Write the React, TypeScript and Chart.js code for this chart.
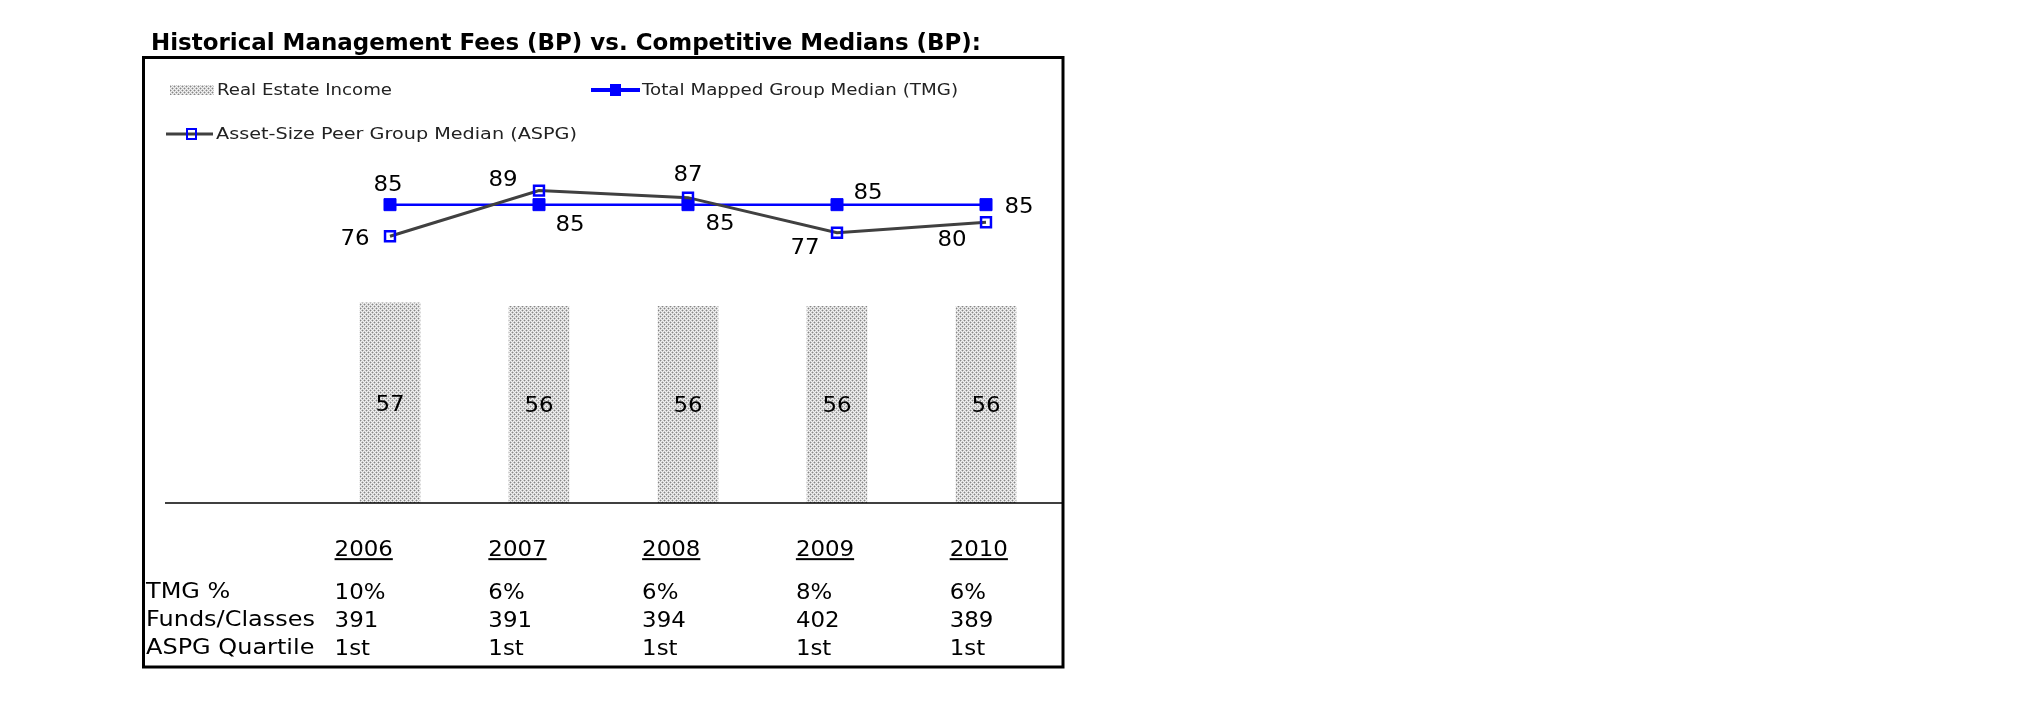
import React, { useEffect, useRef } from 'react';
import { Chart, registerables } from 'chart.js';

Chart.register(...registerables);

// ---------------- data ----------------
const TITLE = 'Historical Management Fees (BP) vs. Competitive Medians (BP):';
const YEARS = ['2006', '2007', '2008', '2009', '2010'];
const REAL_ESTATE_INCOME = [57, 56, 56, 56, 56];
const TMG_MEDIAN = [85, 85, 85, 85, 85];
const ASPG_MEDIAN = [76, 89, 87, 77, 80];
const ROW_LABELS = ['TMG %', 'Funds/Classes', 'ASPG Quartile'];
const TMG_PCT = ['10%', '6%', '6%', '8%', '6%'];
const FUNDS_CLASSES = ['391', '391', '394', '402', '389'];
const ASPG_QUARTILE = ['1st', '1st', '1st', '1st', '1st'];
const SERIES_LABELS = ['Real Estate Income', 'Total Mapped Group Median (TMG)', 'Asset-Size Peer Group Median (ASPG)'];

// ---------------- style / layout ----------------
const FONT = '"DejaVu Sans", Verdana, sans-serif';
const BLUE = '#0000ff';
const GRAY_LINE = '#404040';
const NUM_SIZE = 21;
const NUM_STRETCH = 1.09;
const TEXT_SIZE = 20.5;
const TEXT_STRETCH = 1.17;
// label placement (dx, dy from the point, to label centre)
const TMG_LABEL_OFFSETS = [[-2, -21], [31, 19], [32, 18], [31, -13], [33, 1]];
const ASPG_LABEL_OFFSETS = [[-35, 1], [-36, -12], [0, -24], [-32, 14], [-34, 16]];

function makePattern(): CanvasPattern | string {
  const c = document.createElement('canvas');
  c.width = 4;
  c.height = 4;
  const g = c.getContext('2d');
  if (!g) return '#cccccc';
  g.fillStyle = '#f2f2f2';
  g.fillRect(0, 0, 4, 4);
  g.fillStyle = '#c8c8c8';
  g.fillRect(1, 0, 1, 1);
  g.fillRect(3, 0, 1, 1);
  g.fillRect(0, 1, 1, 1);
  g.fillRect(2, 1, 1, 1);
  g.fillRect(1, 2, 1, 1);
  g.fillRect(3, 2, 1, 1);
  g.fillRect(0, 3, 1, 1);
  g.fillRect(2, 3, 1, 1);
  g.fillStyle = '#858585';
  g.fillRect(0, 0, 1, 1);
  g.fillRect(2, 2, 1, 1);
  const p = g.createPattern(c, 'repeat');
  return p || '#cccccc';
}

type TextOpts = {
  size: number;
  bold?: boolean;
  color?: string;
  align?: 'left' | 'center';
  stretch?: number;
  width?: number;
  underline?: boolean;
};

// cy = visual centre of capital letters / digits
function drawText(ctx: CanvasRenderingContext2D, text: string, x: number, cy: number, o: TextOpts) {
  ctx.save();
  ctx.font = `${o.bold ? 'bold ' : ''}${o.size}px ${FONT}`;
  const w = ctx.measureText(text).width;
  const sx = o.width ? o.width / w : o.stretch ?? 1;
  const baseline = cy + (0.729 * o.size) / 2;
  ctx.translate(x, baseline);
  ctx.scale(sx, 1);
  ctx.textAlign = 'left';
  ctx.textBaseline = 'alphabetic';
  ctx.fillStyle = o.color ?? '#000';
  const startX = o.align === 'center' ? -w / 2 : 0;
  ctx.fillText(text, startX, 0);
  if (o.underline) {
    ctx.fillRect(startX, 2.5, w, 2);
  }
  ctx.restore();
}

const decorPlugin = {
  id: 'decor',
  afterDatasetsDraw(chart: any) {
    const ctx: CanvasRenderingContext2D = chart.ctx;
    const { chartArea } = chart;
    const yScale = chart.scales.y;
    const y0 = yScale.getPixelForValue(0);

    // x axis line
    ctx.save();
    ctx.strokeStyle = '#000';
    ctx.lineWidth = 1.5;
    ctx.beginPath();
    ctx.moveTo(chartArea.left, y0);
    ctx.lineTo(chartArea.right, y0);
    ctx.stroke();
    ctx.restore();

    const numOpts: TextOpts = { size: NUM_SIZE, align: 'center', stretch: NUM_STRETCH };
    // bar labels
    chart.getDatasetMeta(0).data.forEach((el: any, i: number) => {
      drawText(ctx, String(REAL_ESTATE_INCOME[i]), el.x, (el.y + el.base) / 2, numOpts);
    });
    // line labels
    chart.getDatasetMeta(1).data.forEach((el: any, i: number) => {
      const [dx, dy] = TMG_LABEL_OFFSETS[i];
      drawText(ctx, String(TMG_MEDIAN[i]), el.x + dx, el.y + dy, numOpts);
    });
    chart.getDatasetMeta(2).data.forEach((el: any, i: number) => {
      const [dx, dy] = ASPG_LABEL_OFFSETS[i];
      drawText(ctx, String(ASPG_MEDIAN[i]), el.x + dx, el.y + dy, numOpts);
    });
  },
  afterDraw(chart: any) {
    const ctx: CanvasRenderingContext2D = chart.ctx;
    const xScale = chart.scales.x;
    const yScale = chart.scales.y;
    const y0 = yScale.getPixelForValue(0);
    const ds = chart.data.datasets;

    // title
    drawText(ctx, TITLE, 151, 41.5, { size: 23, bold: true, width: 830 });

    // frame
    ctx.save();
    ctx.strokeStyle = '#000';
    ctx.lineWidth = 3;
    ctx.strokeRect(143.5, 57.5, 1063 - 143.5, 667 - 57.5);
    ctx.restore();

    // legend item 1: bar swatch
    ctx.save();
    ctx.fillStyle = ds[0].backgroundColor;
    ctx.fillRect(170, 85, 44, 10);
    ctx.restore();
    drawText(ctx, ds[0].label, 217, 90, { size: 15, color: '#222', width: 175 });

    // legend item 2: TMG line
    ctx.save();
    ctx.strokeStyle = ds[1].borderColor;
    ctx.lineWidth = 4;
    ctx.beginPath();
    ctx.moveTo(591, 90);
    ctx.lineTo(640, 90);
    ctx.stroke();
    ctx.fillStyle = ds[1].pointBackgroundColor;
    ctx.fillRect(610, 84, 11, 12);
    ctx.restore();
    drawText(ctx, ds[1].label, 642, 90, { size: 15, color: '#222', width: 316 });

    // legend item 3: ASPG line
    ctx.save();
    ctx.strokeStyle = ds[2].borderColor;
    ctx.lineWidth = 3;
    ctx.beginPath();
    ctx.moveTo(166, 134);
    ctx.lineTo(213, 134);
    ctx.stroke();
    ctx.strokeStyle = ds[2].pointBorderColor;
    ctx.lineWidth = 2;
    ctx.strokeRect(187, 129, 9, 10);
    ctx.restore();
    drawText(ctx, ds[2].label, 216, 134, { size: 15, color: '#222', width: 361 });

    // data table below the chart
    const colX = (i: number) => xScale.getPixelForValue(i * 1.032 - 0.372);
    YEARS.forEach((yr, i) => {
      drawText(ctx, yr, colX(i), y0 + 45, { size: NUM_SIZE, stretch: NUM_STRETCH, underline: true });
    });
    const rows = [TMG_PCT, FUNDS_CLASSES, ASPG_QUARTILE];
    const rowY = [y0 + 88, y0 + 116, y0 + 144];
    rows.forEach((row, r) => {
      drawText(ctx, ROW_LABELS[r], 146, rowY[r], { size: TEXT_SIZE, stretch: TEXT_STRETCH });
      row.forEach((v, i) => {
        drawText(ctx, v, colX(i), rowY[r], { size: NUM_SIZE, stretch: NUM_STRETCH });
      });
    });
  },
};

export default function App() {
  const ref = useRef<HTMLCanvasElement>(null);

  useEffect(() => {
    const canvas = ref.current;
    if (!canvas) return;
    const pattern = makePattern();
    const chart = new Chart(canvas, {
      type: 'bar',
      data: {
        datasets: [
          {
            type: 'bar',
            label: SERIES_LABELS[0],
            data: REAL_ESTATE_INCOME.map((v, i) => ({ x: i, y: v })),
            backgroundColor: pattern as any,
            borderWidth: 0,
            barThickness: 60,
            order: 3,
          } as any,
          {
            type: 'line',
            label: SERIES_LABELS[1],
            data: TMG_MEDIAN.map((v, i) => ({ x: i, y: v })),
            borderColor: BLUE,
            borderWidth: 2.5,
            pointStyle: 'rect',
            pointRadius: 8.5,
            pointBackgroundColor: BLUE,
            pointBorderColor: BLUE,
            pointBorderWidth: 1,
            tension: 0,
            order: 2,
          },
          {
            type: 'line',
            label: SERIES_LABELS[2],
            data: ASPG_MEDIAN.map((v, i) => ({ x: i, y: v })),
            borderColor: GRAY_LINE,
            borderWidth: 3,
            pointStyle: 'rect',
            pointRadius: 7,
            pointBackgroundColor: 'rgba(0,0,0,0)',
            pointBorderColor: BLUE,
            pointBorderWidth: 2.5,
            tension: 0,
            order: 1,
          },
        ],
      },
      options: {
        animation: false,
        responsive: false,
        devicePixelRatio: 1,
        events: [],
        layout: { padding: { left: 165, right: 2025 - 1062, top: 152, bottom: 717 - 503 } },
        scales: {
          x: { type: 'linear', min: -1.51, max: 4.51, offset: false, display: false },
          y: { type: 'linear', min: 0, max: 100, display: false },
        },
        plugins: {
          legend: { display: false },
          title: { display: false },
          tooltip: { enabled: false },
        },
      },
      plugins: [decorPlugin],
    });
    return () => chart.destroy();
  }, []);

  return (
    <div style={{ position: 'absolute', left: 0, top: 0, width: 2025, height: 717, background: '#fff' }}>
      <canvas ref={ref} width={2025} height={717} style={{ display: 'block', width: 2025, height: 717 }} />
    </div>
  );
}
